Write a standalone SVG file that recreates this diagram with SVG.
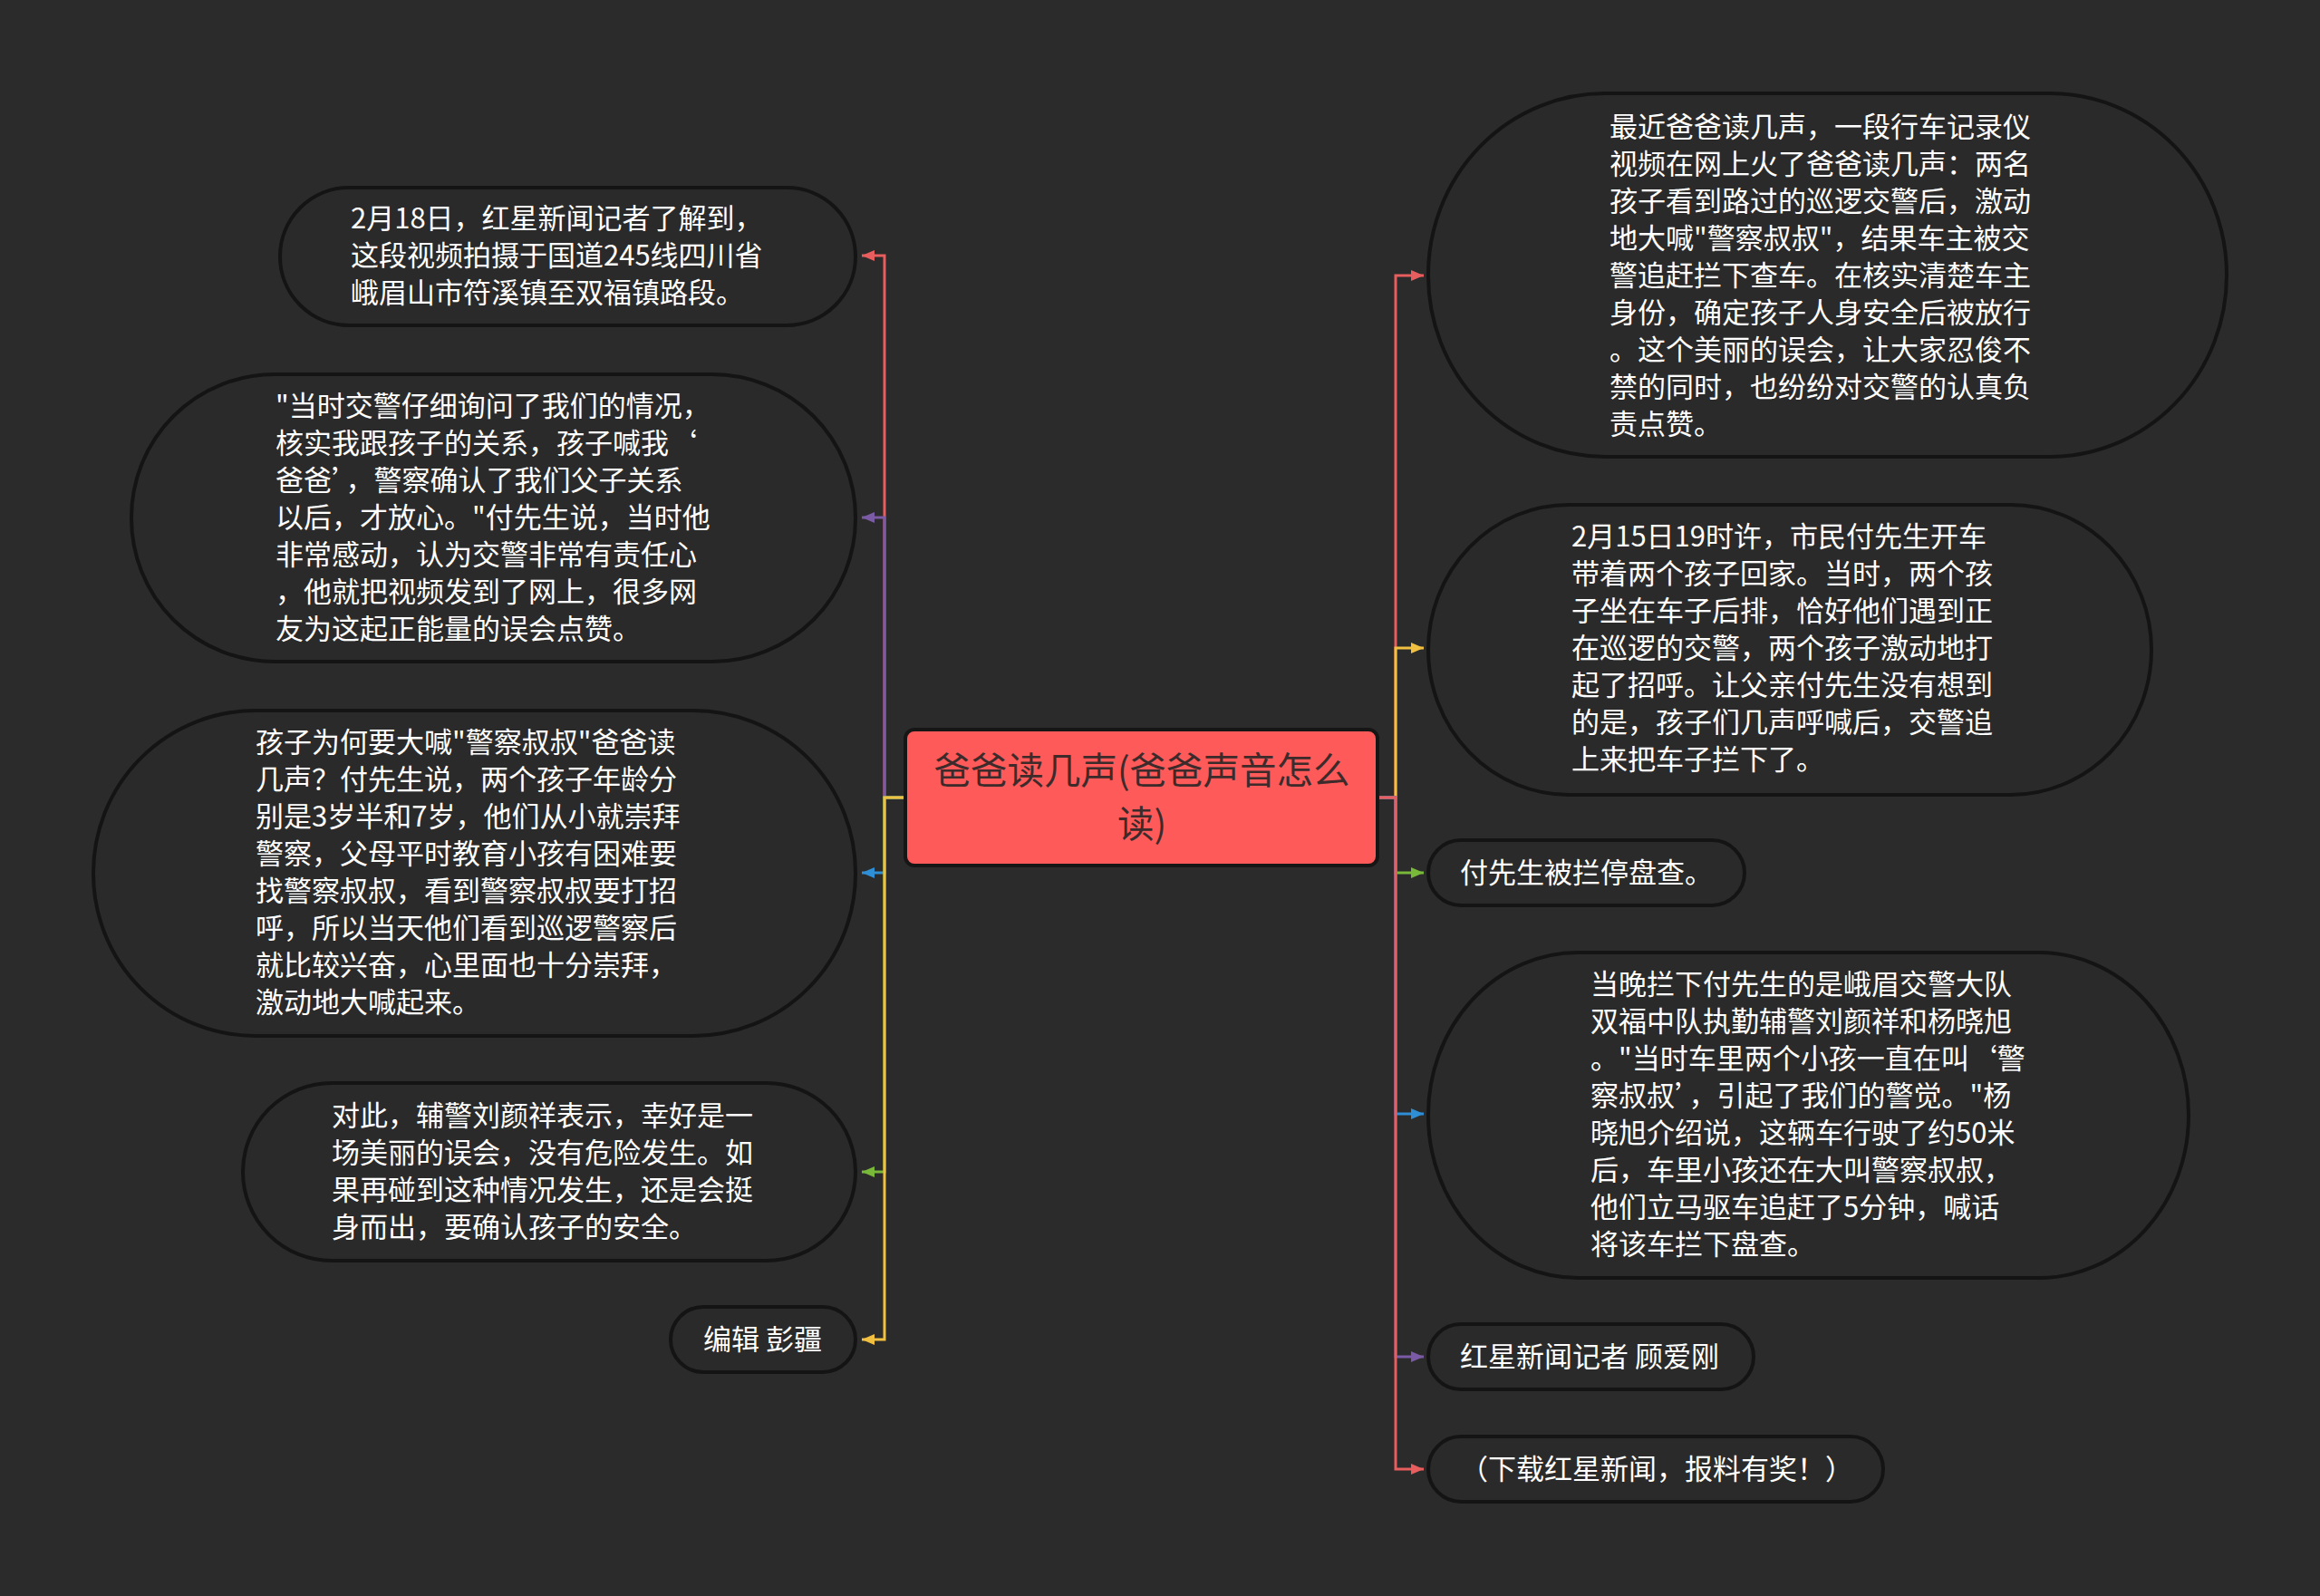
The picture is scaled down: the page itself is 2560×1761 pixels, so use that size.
<svg xmlns="http://www.w3.org/2000/svg" width="2560" height="1761" viewBox="0 0 2560 1761">
<style>
.bg{fill:#2b2b2b}
.node{fill:#2a2a2a;stroke:#141414;stroke-width:4}
.t{font-family:"Noto Sans CJK SC","Microsoft YaHei",sans-serif;font-size:31px;fill:#ffffff}
.ct{font-family:"Noto Sans CJK SC","Microsoft YaHei",sans-serif;font-size:40.5px;fill:#3d2b2b;text-anchor:middle}
.c{fill:none;stroke-width:3}
.red{stroke:#e85d5d}.pur{stroke:#7b5aa6}.blu{stroke:#2f8fd6}.grn{stroke:#79b93a}.yel{stroke:#f2c040}
</style>
<defs>
<marker id="aR" markerUnits="userSpaceOnUse" markerWidth="14" markerHeight="12" refX="14" refY="6" orient="auto"><path d="M0,0 L14,6 L0,12 z" fill="#e85d5d"/></marker>
<marker id="aP" markerUnits="userSpaceOnUse" markerWidth="14" markerHeight="12" refX="14" refY="6" orient="auto"><path d="M0,0 L14,6 L0,12 z" fill="#7b5aa6"/></marker>
<marker id="aB" markerUnits="userSpaceOnUse" markerWidth="14" markerHeight="12" refX="14" refY="6" orient="auto"><path d="M0,0 L14,6 L0,12 z" fill="#2f8fd6"/></marker>
<marker id="aG" markerUnits="userSpaceOnUse" markerWidth="14" markerHeight="12" refX="14" refY="6" orient="auto"><path d="M0,0 L14,6 L0,12 z" fill="#79b93a"/></marker>
<marker id="aY" markerUnits="userSpaceOnUse" markerWidth="14" markerHeight="12" refX="14" refY="6" orient="auto"><path d="M0,0 L14,6 L0,12 z" fill="#f2c040"/></marker>
</defs>
<rect class="bg" x="0" y="0" width="2560" height="1761"/>

<g id="connectors">
<path class="c red" d="M999 880 H976 V282 H951" marker-end="url(#aR)"/>
<path class="c pur" d="M999 880 H976 V571 H951" marker-end="url(#aP)"/>
<path class="c blu" d="M999 880 H976 V963 H951" marker-end="url(#aB)"/>
<path class="c grn" d="M999 880 H976 V1293 H951" marker-end="url(#aG)"/>
<path class="c yel" d="M999 880 H976 V1478 H951" marker-end="url(#aY)"/>
<path class="c red" d="M1520 880 H1540 V304 H1571" marker-end="url(#aR)"/>
<path class="c yel" d="M1520 880 H1540 V715 H1571" marker-end="url(#aY)"/>
<path class="c grn" d="M1520 880 H1540 V963 H1571" marker-end="url(#aG)"/>
<path class="c blu" d="M1520 880 H1540 V1229 H1571" marker-end="url(#aB)"/>
<path class="c pur" d="M1520 880 H1540 V1497 H1571" marker-end="url(#aP)"/>
<path class="c red" d="M1520 880 H1540 V1621 H1571" marker-end="url(#aR)"/>
</g>

<g id="center">
<rect x="999" y="805" width="521" height="150" rx="10" fill="#ff5a5a" stroke="#161616" stroke-width="4"/>
<text class="ct" x="1260" y="865">爸爸读几声(爸爸声音怎么</text>
<text class="ct" x="1260" y="924">读)</text>
</g>

<g id="L1">
<rect class="node" x="309" y="207" width="635" height="152" rx="76" ry="76"/>
<text class="t"><tspan x="387" y="252">2月18日，红星新闻记者了解到，</tspan><tspan x="387" y="293">这段视频拍摄于国道245线四川省</tspan><tspan x="387" y="334">峨眉山市符溪镇至双福镇路段。</tspan></text>
</g>

<g id="L2">
<rect class="node" x="145" y="413" width="799" height="317" rx="158" ry="158"/>
<text class="t"><tspan x="304" y="459">"当时交警仔细询问了我们的情况，</tspan><tspan x="304" y="500">核实我跟孩子的关系，孩子喊我‘</tspan><tspan x="304" y="541">爸爸’，警察确认了我们父子关系</tspan><tspan x="304" y="582">以后，才放心。"付先生说，当时他</tspan><tspan x="304" y="623">非常感动，认为交警非常有责任心</tspan><tspan x="304" y="664">，他就把视频发到了网上，很多网</tspan><tspan x="304" y="705">友为这起正能量的误会点赞。</tspan></text>
</g>

<g id="L3">
<rect class="node" x="103" y="784" width="841" height="359" rx="179" ry="179"/>
<text class="t"><tspan x="282" y="830">孩子为何要大喊"警察叔叔"爸爸读</tspan><tspan x="282" y="871">几声？付先生说，两个孩子年龄分</tspan><tspan x="282" y="912">别是3岁半和7岁，他们从小就崇拜</tspan><tspan x="282" y="953">警察，父母平时教育小孩有困难要</tspan><tspan x="282" y="994">找警察叔叔，看到警察叔叔要打招</tspan><tspan x="282" y="1035">呼，所以当天他们看到巡逻警察后</tspan><tspan x="282" y="1076">就比较兴奋，心里面也十分崇拜，</tspan><tspan x="282" y="1117">激动地大喊起来。</tspan></text>
</g>

<g id="L4">
<rect class="node" x="268" y="1195" width="676" height="196" rx="98" ry="98"/>
<text class="t"><tspan x="366" y="1242">对此，辅警刘颜祥表示，幸好是一</tspan><tspan x="366" y="1283">场美丽的误会，没有危险发生。如</tspan><tspan x="366" y="1324">果再碰到这种情况发生，还是会挺</tspan><tspan x="366" y="1365">身而出，要确认孩子的安全。</tspan></text>
</g>

<g id="L5">
<rect class="node" x="740" y="1442" width="204" height="72" rx="36" ry="36"/>
<text class="t"><tspan x="776" y="1489">编辑 彭疆</tspan></text>
</g>

<g id="R1">
<rect class="node" x="1576" y="103" width="881" height="401" rx="195" ry="200"/>
<text class="t"><tspan x="1776" y="151">最近爸爸读几声，一段行车记录仪</tspan><tspan x="1776" y="192">视频在网上火了爸爸读几声：两名</tspan><tspan x="1776" y="233">孩子看到路过的巡逻交警后，激动</tspan><tspan x="1776" y="274">地大喊"警察叔叔"，结果车主被交</tspan><tspan x="1776" y="315">警追赶拦下查车。在核实清楚车主</tspan><tspan x="1776" y="356">身份，确定孩子人身安全后被放行</tspan><tspan x="1776" y="397">。这个美丽的误会，让大家忍俊不</tspan><tspan x="1776" y="438">禁的同时，也纷纷对交警的认真负</tspan><tspan x="1776" y="479">责点赞。</tspan></text>
</g>

<g id="R2">
<rect class="node" x="1576" y="557" width="798" height="320" rx="155" ry="160"/>
<text class="t"><tspan x="1734" y="603">2月15日19时许，市民付先生开车</tspan><tspan x="1734" y="644">带着两个孩子回家。当时，两个孩</tspan><tspan x="1734" y="685">子坐在车子后排，恰好他们遇到正</tspan><tspan x="1734" y="726">在巡逻的交警，两个孩子激动地打</tspan><tspan x="1734" y="767">起了招呼。让父亲付先生没有想到</tspan><tspan x="1734" y="808">的是，孩子们几声呼喊后，交警追</tspan><tspan x="1734" y="849">上来把车子拦下了。</tspan></text>
</g>

<g id="R3">
<rect class="node" x="1576" y="927" width="349" height="72" rx="36" ry="36"/>
<text class="t"><tspan x="1611" y="974">付先生被拦停盘查。</tspan></text>
</g>

<g id="R4">
<rect class="node" x="1576" y="1051" width="839" height="359" rx="165" ry="179"/>
<text class="t"><tspan x="1755" y="1097">当晚拦下付先生的是峨眉交警大队</tspan><tspan x="1755" y="1138">双福中队执勤辅警刘颜祥和杨晓旭</tspan><tspan x="1755" y="1179">。"当时车里两个小孩一直在叫‘警</tspan><tspan x="1755" y="1220">察叔叔’，引起了我们的警觉。"杨</tspan><tspan x="1755" y="1261">晓旭介绍说，这辆车行驶了约50米</tspan><tspan x="1755" y="1302">后，车里小孩还在大叫警察叔叔，</tspan><tspan x="1755" y="1343">他们立马驱车追赶了5分钟，喊话</tspan><tspan x="1755" y="1384">将该车拦下盘查。</tspan></text>
</g>

<g id="R5">
<rect class="node" x="1576" y="1461" width="359" height="72" rx="36" ry="36"/>
<text class="t"><tspan x="1611" y="1508">红星新闻记者 顾爱刚</tspan></text>
</g>

<g id="R6">
<rect class="node" x="1576" y="1585" width="502" height="72" rx="36" ry="36"/>
<text class="t"><tspan x="1611" y="1632">（下载红星新闻，报料有奖！）</tspan></text>
</g>
</svg>
